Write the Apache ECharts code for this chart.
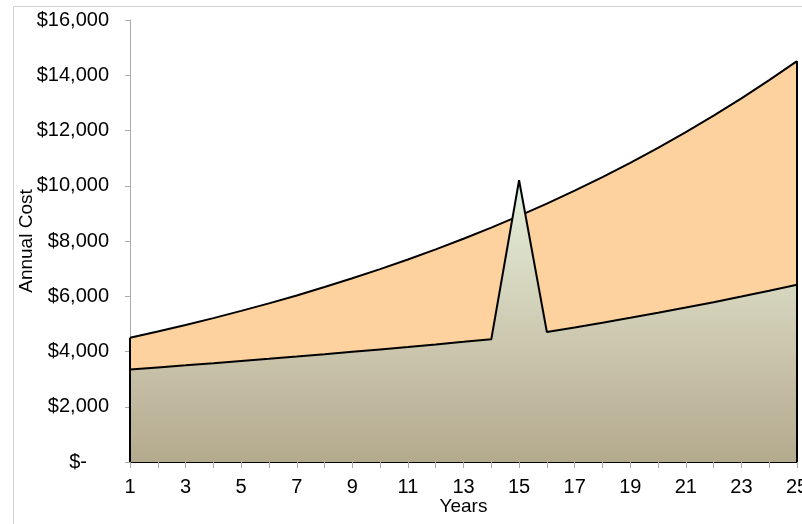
<!DOCTYPE html>
<html>
<head>
<meta charset="utf-8">
<script src="https://cdn.jsdelivr.net/npm/echarts@6/dist/echarts.min.js"></script>
<style>
html,body{margin:0;padding:0;background:#fff;}
#chart{width:802px;height:524px;}
</style>
</head>
<body>
<div id="chart"></div>
<script>
// Data
var years = ['1','2','3','4','5','6','7','8','9','10','11','12','13','14','15','16','17','18','19','20','21','22','23','24','25'];
var upperCost = [4500, 4725, 4961, 5209, 5470, 5743, 6030, 6332, 6649, 6981, 7330, 7697, 8082, 8486, 8910, 9355, 9823, 10314, 10830, 11371, 11940, 12537, 13163, 13822, 14513];
var lowerCost = [3350, 3424, 3499, 3576, 3655, 3735, 3817, 3901, 3987, 4075, 4164, 4256, 4349, 4445, 10200, 4706, 4871, 5041, 5218, 5400, 5589, 5785, 5988, 6197, 6414];
var yTicks = {min: 0, max: 16000, interval: 2000};

var FONT = '"Liberation Sans", Arial, sans-serif';
var chart = echarts.init(document.getElementById('chart'));
var last = years.length - 1;
chart.setOption({
  animation: false,
  backgroundColor: '#fff',
  graphic: [{
    type: 'rect', left: 11, top: 4, shape: {width: 900, height: 600},
    style: {fill: 'none', stroke: '#d0d0d0', lineWidth: 1}, z: -10
  }],
  grid: {left: 130, right: 5, top: 20, bottom: 62, containLabel: false, outerBoundsMode: 'none'},
  xAxis: {
    type: 'category', data: years, boundaryGap: false,
    name: 'Years', nameLocation: 'middle', nameGap: 35, nameMoveOverlap: false,
    nameTextStyle: {fontFamily: FONT, fontSize: 19, color: '#000', verticalAlign: 'top'},
    axisLine: {show: true, lineStyle: {color: '#000', width: 2}},
    axisTick: {show: true, interval: 0, length: 6, lineStyle: {color: '#aaa'}},
    axisLabel: {interval: 1, margin: 15, fontFamily: FONT, fontSize: 20, color: '#000'},
    splitLine: {show: false}
  },
  yAxis: {
    type: 'value', min: yTicks.min, max: yTicks.max, interval: yTicks.interval,
    name: 'Annual Cost', nameLocation: 'middle', nameGap: 103, nameRotate: 90, nameMoveOverlap: false,
    nameTextStyle: {fontFamily: FONT, fontSize: 19, color: '#000', verticalAlign: 'middle'},
    axisLine: {show: true, lineStyle: {color: '#aaa', width: 1}},
    axisTick: {show: true, length: 5, lineStyle: {color: '#aaa'}},
    splitLine: {show: false},
    axisLabel: {
      margin: 21, fontFamily: FONT, fontSize: 20, color: '#000',
      formatter: function (v) {
        if (v === 0) return '{z|$-}';
        return '$' + v.toString().replace(/\B(?=(\d{3})+(?!\d))/g, ',');
      },
      rich: {z: {fontFamily: FONT, fontSize: 20, color: '#000', padding: [0, 22, 0, 0]}}
    }
  },
  series: [{
    type: 'line', data: upperCost, symbol: 'none', z: 2,
    lineStyle: {color: '#000', width: 2},
    areaStyle: {color: '#fdd29e', opacity: 1},
    markLine: {
      silent: true, symbol: 'none', label: {show: false},
      lineStyle: {color: '#000', width: 2, type: 'solid'},
      data: [
        [{coord: [years[0], 0]}, {coord: [years[0], upperCost[0]]}],
        [{coord: [years[last], 0]}, {coord: [years[last], upperCost[last]]}]
      ]
    }
  }, {
    type: 'line', data: lowerCost, symbol: 'none', z: 3,
    lineStyle: {color: '#000', width: 2},
    areaStyle: {
      opacity: 1,
      color: new echarts.graphic.LinearGradient(0, 0, 0, 1, [
        {offset: 0, color: '#d6f6f3'},
        {offset: 0.12, color: '#dfe7d2'},
        {offset: 0.4, color: '#d5d4bd'},
        {offset: 0.65, color: '#c8c2a9'},
        {offset: 1, color: '#b4aa8e'}
      ])
    }
  }]
});
</script>
</body>
</html>
